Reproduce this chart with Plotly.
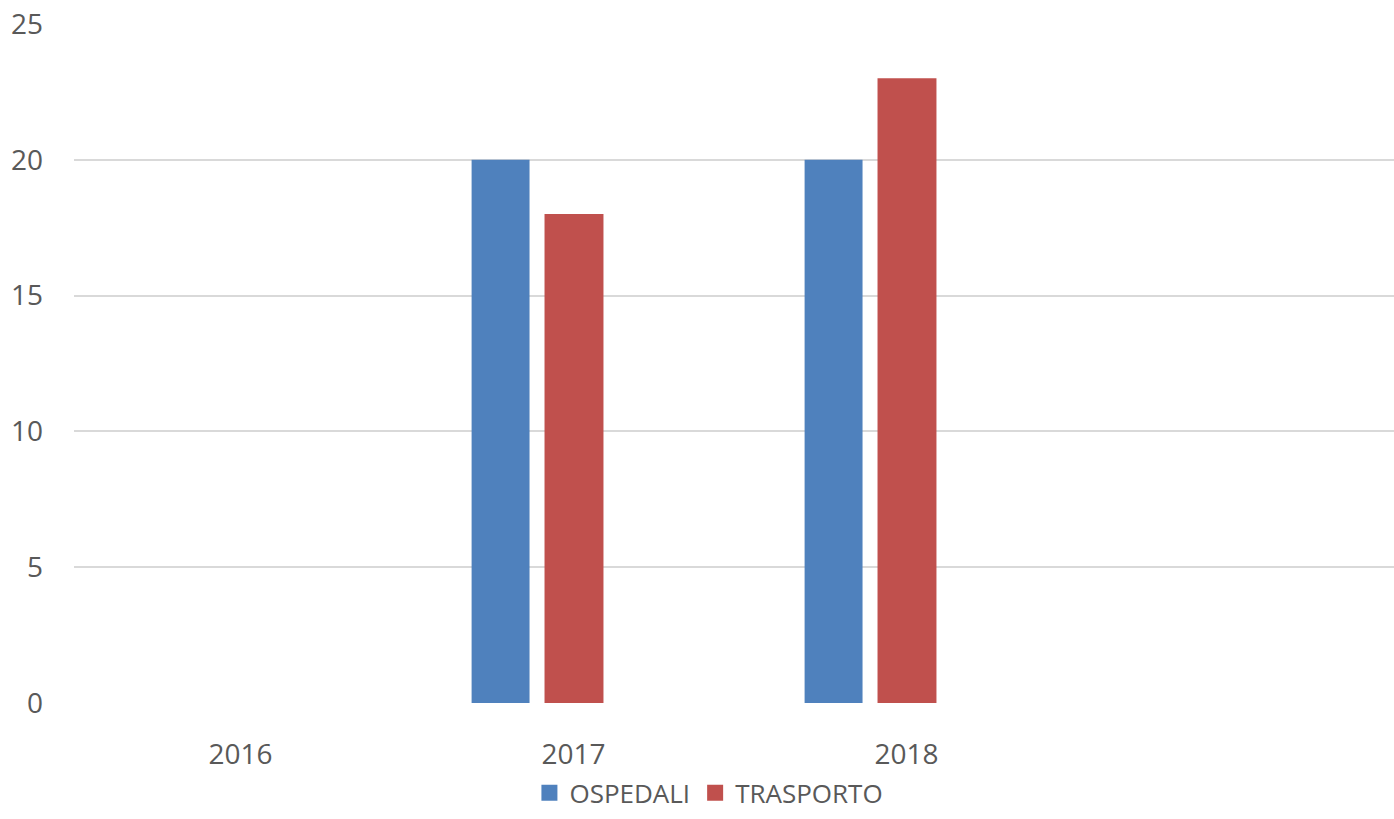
import plotly.graph_objects as go

years = ["2016", "2017", "2018"]
ospedali = [None, 20, 20]
trasporto = [None, 18, 23]
y_ticks = [0, 5, 10, 15, 20, 25]
names = ["OSPEDALI", "TRASPORTO"]
colors = ["#4f81bd", "#c0504d"]

xpos = list(range(len(years)))
font = dict(family="Open Sans, sans-serif", color="#595959")

fig = go.Figure()
fig.add_trace(go.Bar(x=xpos, y=ospedali, name=names[0], marker_color=colors[0],
                     width=0.174, offset=-0.306, marker_line_width=0, showlegend=False))
fig.add_trace(go.Bar(x=xpos, y=trasporto, name=names[1], marker_color=colors[1],
                     width=0.177, offset=-0.087, marker_line_width=0, showlegend=False))
for n, c in zip(names, colors):
    fig.add_trace(go.Scatter(x=[None], y=[None], mode="markers", name=n,
                             marker=dict(symbol="square", size=18, color=c)))

fig.update_layout(
    width=1394, height=819,
    margin=dict(l=74, r=0, t=24, b=116),
    plot_bgcolor="white", paper_bgcolor="white",
    font=dict(size=27, **font),
    barmode="overlay",
    showlegend=True,
    legend=dict(orientation="h", x=0.481, xanchor="center", yref="container",
                y=0.032, yanchor="middle",
                font=dict(size=26, **font), traceorder="normal", itemwidth=30),
    xaxis=dict(range=[-0.5, 3.464], tickvals=xpos, ticktext=years, showgrid=False,
               zeroline=False, showline=False, ticks="", ticklabelstandoff=32,
               automargin=False, ticklabeloverflow="allow", tickfont=dict(size=28, **font)),
    yaxis=dict(range=[0, 25], tickvals=y_ticks, showgrid=True, gridcolor="#d9d9d9",
               gridwidth=2, zeroline=False, showline=False, ticks="",
               ticklabelstandoff=30, automargin=False, ticklabeloverflow="allow",
               tickfont=dict(size=28, **font)),
)
fig.write_html("out.html", config={"displayModeBar": False},
               post_script="document.body.style.margin='0px';")
